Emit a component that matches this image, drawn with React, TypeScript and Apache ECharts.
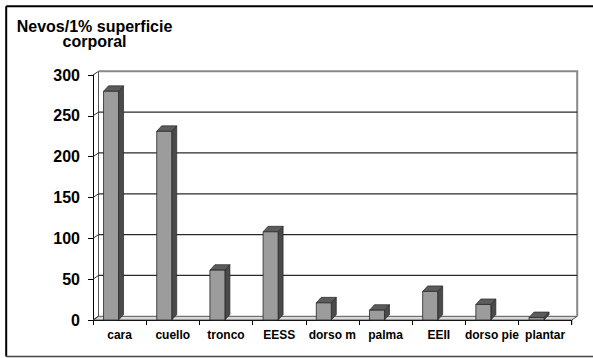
import React, { useEffect, useRef } from "react";
import * as echarts from "echarts";

const categories = ["cara", "cuello", "tronco", "EESS", "dorso m", "palma", "EEII", "dorso pie", "plantar"];
const values = [280, 231, 61, 108, 21, 12, 35, 19, 3];
const yTicks = [0, 50, 100, 150, 200, 250, 300];
const titleText = "Nevos/1% superficie\ncorporal";

const WALL_DX = 5.5;
const WALL_DY = -3.7;
const BAR_DX = 5;
const BAR_DY = -5.5;
const FONT = "'Liberation Sans', Arial, sans-serif";

export default function App() {
  const ref = useRef<HTMLDivElement>(null);
  useEffect(() => {
    if (!ref.current) return;
    const chart = echarts.init(ref.current, null, { renderer: "svg" });
    const n = categories.length;

    const option: any = {
      animation: false,
      backgroundColor: "#ffffff",
      grid: { left: 93, right: 21.3, top: 75, bottom: 38, containLabel: false },
      xAxis: {
        type: "category",
        data: categories,
        boundaryGap: true,
        axisLine: { show: true, lineStyle: { color: "#000", width: 1 } },
        axisTick: { show: true, length: 5, interval: 0, lineStyle: { color: "#000" } },
        axisLabel: { interval: 0, margin: 9, color: "#000", fontSize: 12, fontWeight: "bold", fontFamily: FONT },
        splitLine: { show: false },
        z: 0,
      },
      yAxis: {
        type: "value",
        min: 0,
        max: 300,
        interval: 50,
        axisLine: { show: true, lineStyle: { color: "#000", width: 1 } },
        axisTick: { show: true, length: 5, lineStyle: { color: "#000" } },
        axisLabel: { margin: 13, color: "#000", fontSize: 16, fontWeight: "bold", fontFamily: FONT },
        splitLine: { show: false },
      },
      graphic: [
        { type: "line", shape: { x1: 6.2, y1: 6.2, x2: 593, y2: 6.2 }, style: { stroke: "#000", lineWidth: 2 }, z: 10 },
        { type: "line", shape: { x1: 6.2, y1: 6.2, x2: 6.2, y2: 356.5 }, style: { stroke: "#000", lineWidth: 2 }, z: 10 },
        { type: "line", shape: { x1: 6.2, y1: 356.5, x2: 593, y2: 356.5 }, style: { stroke: "#444", lineWidth: 1.5 }, z: 10 },
        {
          type: "text",
          x: 94.5,
          y: 18.3,
          z: 10,
          style: {
            text: titleText,
            textAlign: "center",
            textVerticalAlign: "top",
            fill: "#000",
            fontSize: 16,
            fontWeight: "bold",
            fontFamily: FONT,
            lineHeight: 15.5,
          },
        },
      ],
      series: [
        {
          type: "custom",
          name: "walls",
          silent: true,
          z: 1,
          data: [[0, 0]],
          renderItem: (params: any, api: any) => {
            const bw = api.size([1, 0])[0];
            const f0 = api.coord([0, 0]);
            const f300 = api.coord([0, 300]);
            const fr = api.coord([n - 1, 0]);
            const lx = f0[0] - bw / 2;
            const rx = fr[0] + bw / 2;
            const y0 = f0[1];
            const yt = f300[1];
            return {
              type: "group",
              children: [
                {
                  type: "polygon",
                  shape: {
                    points: [
                      [lx, y0],
                      [rx, y0],
                      [rx + WALL_DX, y0 + WALL_DY],
                      [lx + WALL_DX, y0 + WALL_DY],
                    ],
                  },
                  style: { fill: "#d9d9d9", stroke: "#333", lineWidth: 0.8 },
                },
                {
                  type: "line",
                  shape: { x1: lx + WALL_DX, y1: y0 + WALL_DY, x2: lx + WALL_DX, y2: yt + WALL_DY },
                  style: { stroke: "#555", lineWidth: 1 },
                },
                {
                  type: "line",
                  shape: { x1: rx + WALL_DX, y1: y0 + WALL_DY, x2: rx + WALL_DX, y2: yt + WALL_DY },
                  style: { stroke: "#888", lineWidth: 2 },
                },
                {
                  type: "line",
                  shape: { x1: rx, y1: y0, x2: rx, y2: y0 + 5 },
                  style: { stroke: "#000", lineWidth: 1 },
                },
              ],
            };
          },
        },
        {
          type: "custom",
          name: "grid",
          silent: true,
          z: 1,
          data: yTicks.map((v) => [0, v]),
          renderItem: (params: any, api: any) => {
            const v = api.value(1);
            const bw = api.size([1, 0])[0];
            const p = api.coord([0, v]);
            const pr = api.coord([n - 1, v]);
            const lx = p[0] - bw / 2;
            const rx = pr[0] + bw / 2;
            const y = p[1];
            const children: any[] = [
              {
                type: "line",
                shape: { x1: lx, y1: y, x2: lx + WALL_DX, y2: y + WALL_DY },
                style: { stroke: "#333", lineWidth: 1 },
              },
            ];
            if (v > 0) {
              const top = v === 300;
              children.push({
                type: "line",
                shape: { x1: lx + WALL_DX, y1: y + WALL_DY, x2: rx + WALL_DX + (top ? 1 : 0), y2: y + WALL_DY },
                style: { stroke: top ? "#888" : "#2a2a2a", lineWidth: top ? 2 : 1.2 },
              });
            }
            return { type: "group", children };
          },
        },
        {
          type: "custom",
          name: "bars",
          silent: true,
          z: 3,
          data: values.map((v, i) => [i, v]),
          renderItem: (params: any, api: any) => {
            const i = api.value(0);
            const v = api.value(1);
            const bw = api.size([1, 0])[0];
            const base = api.coord([i, 0]);
            const top = api.coord([i, v]);
            const start = base[0] - bw / 2;
            const x0 = start + 0.198 * bw;
            const x1 = start + 0.48 * bw;
            const yb = base[1];
            const yt = top[1];
            const stroke = "#262626";
            return {
              type: "group",
              children: [
                {
                  type: "polygon",
                  shape: {
                    points: [
                      [x1, yt],
                      [x1 + BAR_DX, yt + BAR_DY],
                      [x1 + BAR_DX, yb + BAR_DY],
                      [x1, yb],
                    ],
                  },
                  style: { fill: "#4a4a4a", stroke, lineWidth: 0.7 },
                },
                {
                  type: "polygon",
                  shape: {
                    points: [
                      [x0, yt],
                      [x0 + BAR_DX, yt + BAR_DY],
                      [x1 + BAR_DX, yt + BAR_DY],
                      [x1, yt],
                    ],
                  },
                  style: { fill: "#5c5c5c", stroke, lineWidth: 0.7 },
                },
                {
                  type: "rect",
                  shape: { x: x0, y: yt, width: x1 - x0, height: yb - yt },
                  style: { fill: "#9c9c9c", stroke, lineWidth: 0.8 },
                },
              ],
            };
          },
        },
      ],
    };

    chart.setOption(option);
    return () => {
      chart.dispose();
    };
  }, []);

  return (
    <div
      ref={ref}
      style={{ position: "fixed", left: 0, top: 0, width: 593, height: 358, background: "#fff" }}
    />
  );
}
